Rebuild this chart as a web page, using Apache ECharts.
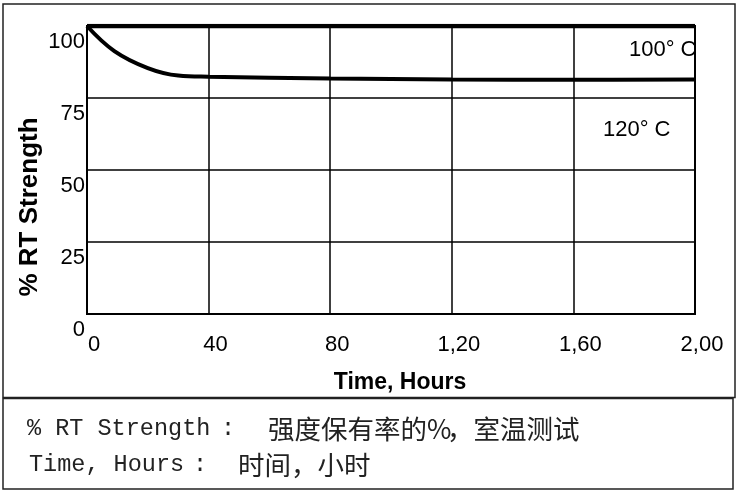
<!DOCTYPE html>
<html>
<head>
<meta charset="utf-8">
<script src="https://cdn.jsdelivr.net/npm/echarts@6/dist/echarts.min.js"></script>
<style>
html,body{margin:0;padding:0;background:#fff;}
#chart{width:741px;height:495px;}
</style>
</head>
<body>
<div id="chart"></div>
<script>
// ---- data ----
const xTickLabels = ["0", "40", "80", "1,20", "1,60", "2,00"];
const yTickLabels = ["0", "25", "50", "75", "100"];
const time100 = [0, 200];
const strength100 = [100, 100];
const time120 = [0, 9, 20, 30, 40, 80, 120, 160, 200];
const strength120 = [100, 91.3, 85.4, 82.8, 82.4, 81.8, 81.4, 81.3, 81.4];
const seriesNames = ["100° C", "120° C"];
const xTitle = "Time, Hours";
const yTitle = "% RT Strength";
const noteLine1 = ["% RT Strength", ":", "强度保有率的%", "，室温测试"];
const noteLine2 = ["Time, Hours", ":", "时间，小时"];

const zip = (xs, ys) => xs.map((x, i) => [x, ys[i]]);

const chart = echarts.init(document.getElementById('chart'), null, {renderer: 'canvas'});
const sans = "'Liberation Sans', Arial, sans-serif";
const mono = "'Liberation Mono', 'DejaVu Sans Mono', monospace";
const cjk = "'Noto Sans CJK SC', sans-serif";

chart.setOption({
  animation: false,
  backgroundColor: '#fff',
  grid: {
    left: 87, right: 46, top: 26, bottom: 181,
    show: true, borderColor: '#000', borderWidth: 2, backgroundColor: 'transparent'
  },
  xAxis: {
    type: 'value', min: 0, max: 200, interval: 40,
    name: xTitle, nameLocation: 'middle', nameGap: 57,
    nameTextStyle: {fontFamily: sans, fontWeight: 'bold', fontSize: 23, color: '#000', padding: [0, 0, 0, 18]},
    axisLine: {show: true, lineStyle: {color: '#000', width: 2}},
    axisTick: {show: false},
    axisLabel: {
      fontFamily: sans, fontSize: 22, color: '#000', margin: 20,
      padding: [0, 0, 0, 14],
      formatter: v => xTickLabels[Math.round(v / 40)]
    },
    splitLine: {show: true, lineStyle: {color: '#000', width: 1.5}}
  },
  yAxis: {
    type: 'value', min: 0, max: 100, interval: 25,
    name: yTitle, nameLocation: 'middle', nameGap: 44, nameRotate: 90,
    nameMoveOverlap: false,
    nameTextStyle: {fontFamily: sans, fontWeight: 'bold', fontSize: 26, color: '#000', padding: [0, 74, 0, 0]},
    axisLine: {show: true, lineStyle: {color: '#000', width: 2}},
    axisTick: {show: false},
    axisLabel: {
      fontFamily: sans, fontSize: 22, color: '#000', margin: 2,
      verticalAlign: 'top', lineHeight: 31,
      formatter: v => yTickLabels[Math.round(v / 25)]
    },
    splitLine: {show: true, lineStyle: {color: '#000', width: 1.5}}
  },
  series: [
    {
      name: seriesNames[0], type: 'line', data: zip(time100, strength100),
      showSymbol: false, lineStyle: {color: '#000', width: 4.5}, z: 5
    },
    {
      name: seriesNames[1], type: 'line', data: zip(time120, strength120),
      showSymbol: false, smooth: 0.4,
      lineStyle: {color: '#000', width: 4}, z: 5
    }
  ],
  graphic: [
    {type: 'rect', shape: {x: 3, y: 4, width: 732, height: 393.5},
     style: {fill: 'none', stroke: '#222', lineWidth: 1.5}, silent: true},
    {type: 'rect', shape: {x: 3, y: 398.5, width: 730, height: 90.5},
     style: {fill: 'none', stroke: '#222', lineWidth: 1.5}, silent: true},
    {type: 'text', x: 629, y: 50, style: {text: seriesNames[0], font: "22px 'Liberation Sans', Arial", fill: '#000', verticalAlign: 'middle'}},
    {type: 'text', x: 603, y: 130, style: {text: seriesNames[1], font: "22px 'Liberation Sans', Arial", fill: '#000', verticalAlign: 'middle'}},
    // notes
    {type: 'text', x: 27, y: 429, style: {text: noteLine1[0], font: "23.5px " + mono, fill: '#222', verticalAlign: 'middle'}},
    {type: 'text', x: 228, y: 429, style: {text: noteLine1[1], font: "23.5px " + mono, fill: '#222', align: 'center', verticalAlign: 'middle'}},
    {type: 'text', x: 268, y: 429, style: {text: noteLine1[2], font: "26.5px " + cjk, fill: '#222', verticalAlign: 'middle'}},
    {type: 'text', x: 447, y: 429, style: {text: noteLine1[3], font: "26.5px " + cjk, fill: '#222', verticalAlign: 'middle'}},
    {type: 'text', x: 29, y: 465, style: {text: noteLine2[0], font: "23.5px " + mono, fill: '#222', verticalAlign: 'middle'}},
    {type: 'text', x: 200, y: 465, style: {text: noteLine2[1], font: "23.5px " + mono, fill: '#222', align: 'center', verticalAlign: 'middle'}},
    {type: 'text', x: 238, y: 465, style: {text: noteLine2[2], font: "26.5px " + cjk, fill: '#222', verticalAlign: 'middle'}}
  ]
});
</script>
</body>
</html>
